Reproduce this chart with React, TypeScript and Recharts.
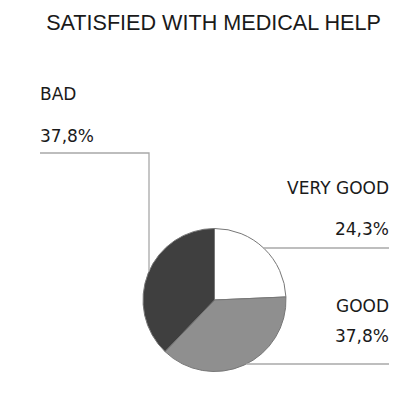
import { Pie, PieChart, Cell } from "recharts";

const categories = ["VERY GOOD", "GOOD", "BAD"];
const shares = [24.3, 37.8, 37.8];
const sliceColors = ["#ffffff", "#8f8f8f", "#3f3f3f"];

const data = categories.map((name, i) => ({ name, value: shares[i] }));

// where each label block sits and how its leader line runs
const labelLayout = [
  { anchor: "end", x: 389, nameY: 194, valueY: 235, lineY: 248, side: "right" },
  { anchor: "end", x: 389, nameY: 312, valueY: 342, lineY: 364, side: "right" },
  { anchor: "start", x: 40, nameY: 100, valueY: 142, lineY: 153, side: "left", elbowX: 149 },
];

const fmt = (v: number) => `${v.toFixed(1).replace(".", ",")}%`;

function SliceLabel(props: any) {
  const { cx, cy, outerRadius, index, name, value } = props;
  const l = labelLayout[index];
  let points: string;
  if (l.side === "right") {
    const dy = l.lineY - cy;
    const edgeX = cx + Math.sqrt(Math.max(outerRadius * outerRadius - dy * dy, 0));
    points = `${edgeX},${l.lineY} ${l.x},${l.lineY}`;
  } else {
    const dx = l.elbowX - cx;
    const edgeY = cy - Math.sqrt(Math.max(outerRadius * outerRadius - dx * dx, 0));
    points = `${l.x},${l.lineY} ${l.elbowX},${l.lineY} ${l.elbowX},${edgeY}`;
  }
  return (
    <g>
      <polyline points={points} fill="none" stroke="#a8a8a8" strokeWidth={1.3} />
      <text x={l.x} y={l.nameY} textAnchor={l.anchor} fill="#1a1a1a" fontSize={17} fontFamily="DejaVu Sans">
        {name}
      </text>
      <text x={l.x} y={l.valueY} textAnchor={l.anchor} fill="#1a1a1a" fontSize={17} fontFamily="DejaVu Sans">
        {fmt(value)}
      </text>
    </g>
  );
}

export default function App() {
  return (
    <div style={{ position: "relative", width: 403, height: 401, background: "#fff" }}>
      <style>{`body{margin:0}`}</style>
      <div
        style={{
          position: "absolute",
          left: 0,
          width: 427,
          top: 10,
          textAlign: "center",
          fontFamily: "Liberation Sans, Arial, sans-serif",
          fontSize: 21.6,
          color: "#1a1a1a",
        }}
      >
        SATISFIED WITH MEDICAL HELP
      </div>
      <PieChart
        width={403}
        height={401}
        margin={{ top: 0, right: 0, bottom: 0, left: 0 }}
        style={{ position: "absolute", left: 0, top: 0 }}
      >
        <Pie
          data={data}
          dataKey="value"
          nameKey="name"
          cx={214.5}
          cy={300}
          outerRadius={71.5}
          startAngle={90}
          endAngle={-270}
          stroke="#777"
          strokeWidth={1}
          label={SliceLabel}
          labelLine={false}
          isAnimationActive={false}
        >
          {data.map((d, i) => (
            <Cell key={d.name} fill={sliceColors[i]} />
          ))}
        </Pie>
      </PieChart>
    </div>
  );
}
